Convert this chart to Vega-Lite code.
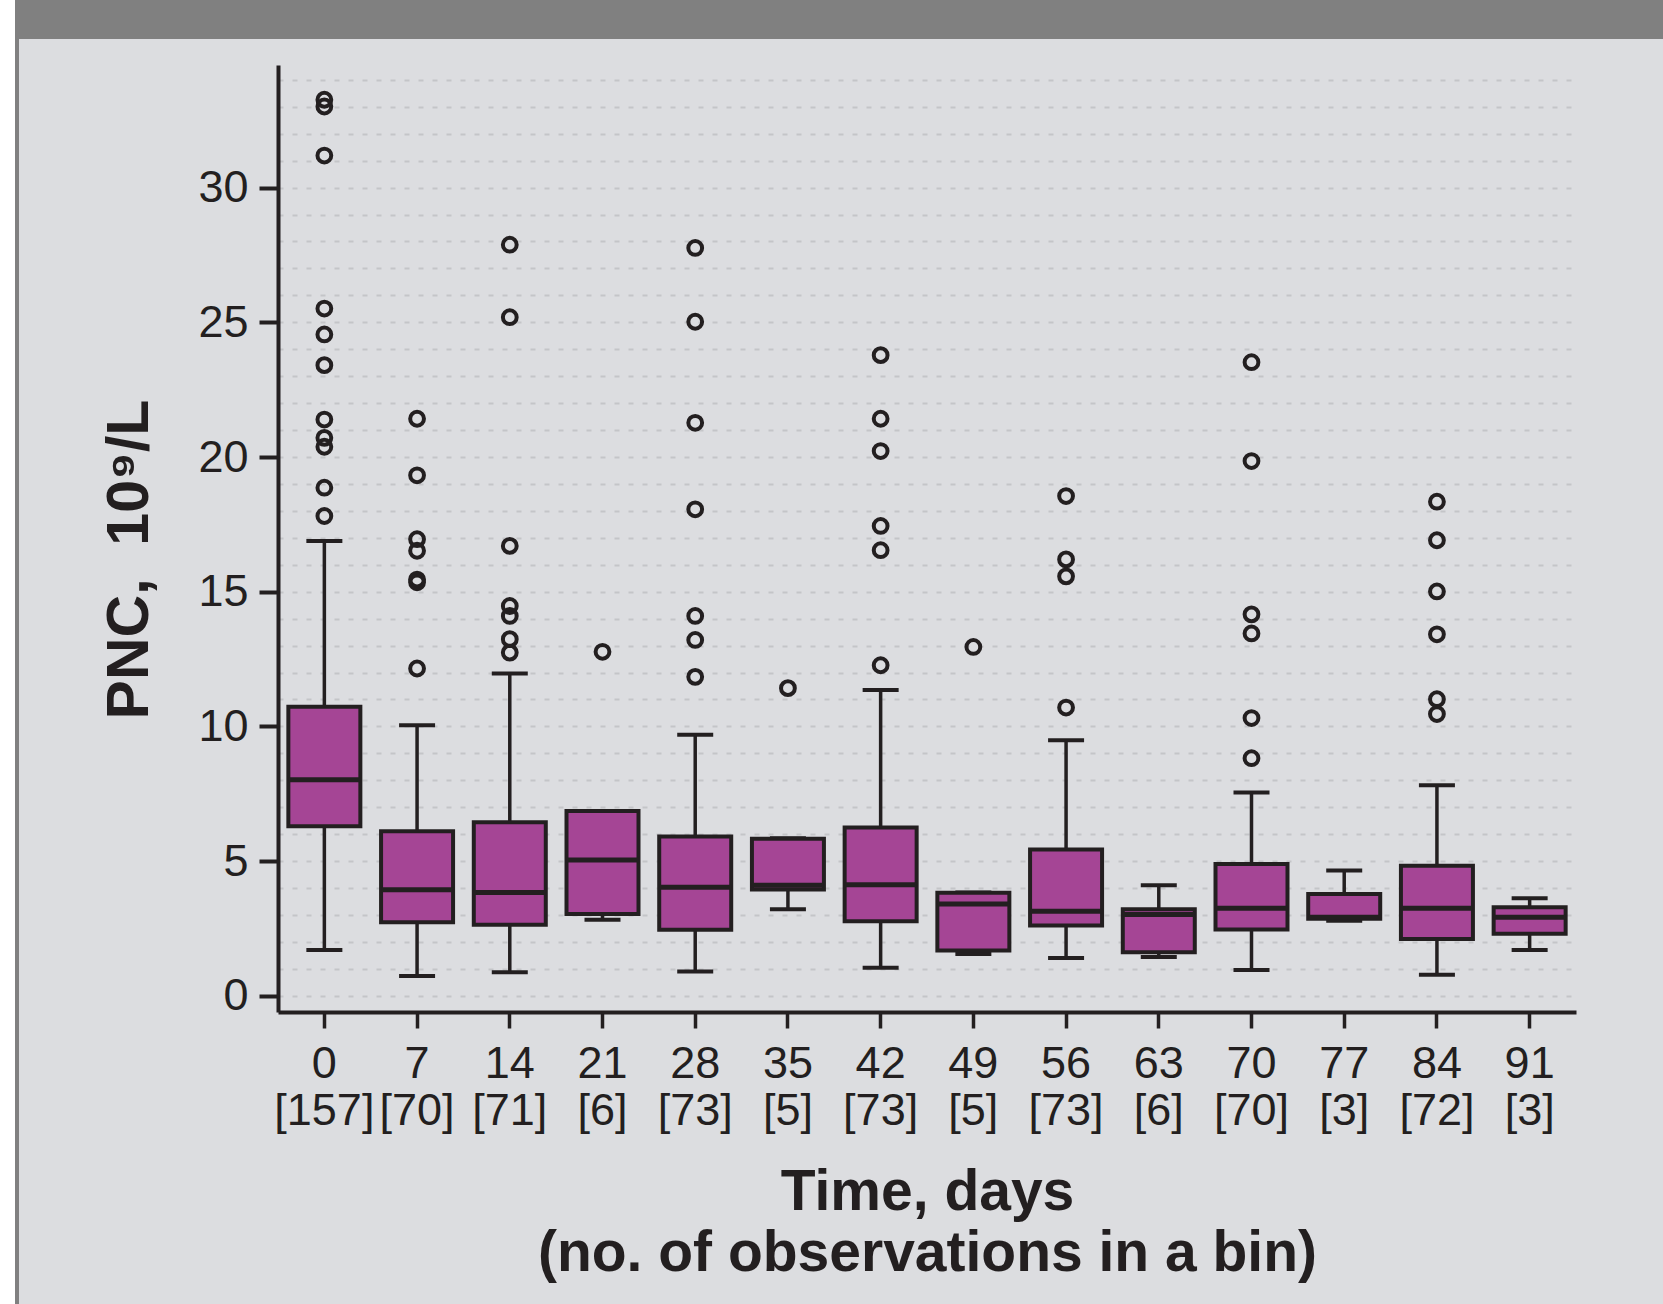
{
  "$schema": "https://vega.github.io/schema/vega-lite/v6.json",
  "background": "#dcdde0",
  "padding": 0,
  "autosize": {"type": "pad"},
  "config": {
    "view": {"stroke": null},
    "axisY": {
      "tickSize": 19, "tickWidth": 4, "tickColor": "#231f20",
      "domainColor": "#231f20", "domainWidth": 4,
      "grid": true, "gridColor": "#c4c5c8", "gridDash": [5, 9], "gridWidth": 2,
      "labelFont": "Liberation Sans", "labelFontSize": 45, "labelColor": "#231f20", "labelPadding": 11,
      "labelOverlap": false, "labelFlush": false,
      "titleFont": "Liberation Sans", "titleFontSize": 59, "titleFontWeight": "bold", "titleColor": "#231f20",
      "titlePadding": 38
    }
  },
  "spacing": 0,
  "bounds": "flush",
  "datasets": {
    "boxes": [
      {"bin": "0 [157]", "lower": 1.70, "q1": 6.29, "median": 8.02, "q3": 10.73, "upper": 16.88},
      {"bin": "7 [70]", "lower": 0.74, "q1": 2.73, "median": 3.94, "q3": 6.11, "upper": 10.04},
      {"bin": "14 [71]", "lower": 0.88, "q1": 2.64, "median": 3.84, "q3": 6.44, "upper": 11.96},
      {"bin": "21 [6]", "lower": 2.82, "q1": 3.04, "median": 5.04, "q3": 6.86, "upper": 6.86},
      {"bin": "28 [73]", "lower": 0.90, "q1": 2.45, "median": 4.03, "q3": 5.91, "upper": 9.69},
      {"bin": "35 [5]", "lower": 3.21, "q1": 3.95, "median": 4.10, "q3": 5.83, "upper": 5.85},
      {"bin": "42 [73]", "lower": 1.04, "q1": 2.77, "median": 4.12, "q3": 6.25, "upper": 11.35},
      {"bin": "49 [5]", "lower": 1.55, "q1": 1.68, "median": 3.41, "q3": 3.83, "upper": 3.84},
      {"bin": "56 [73]", "lower": 1.40, "q1": 2.61, "median": 3.14, "q3": 5.43, "upper": 9.49},
      {"bin": "63 [6]", "lower": 1.44, "q1": 1.62, "median": 3.02, "q3": 3.21, "upper": 4.10},
      {"bin": "70 [70]", "lower": 0.96, "q1": 2.46, "median": 3.25, "q3": 4.89, "upper": 7.55},
      {"bin": "77 [3]", "lower": 2.79, "q1": 2.86, "median": 2.92, "q3": 3.78, "upper": 4.65},
      {"bin": "84 [72]", "lower": 0.78, "q1": 2.11, "median": 3.25, "q3": 4.83, "upper": 7.82},
      {"bin": "91 [3]", "lower": 1.70, "q1": 2.30, "median": 2.92, "q3": 3.29, "upper": 3.62}
    ],
    "outliers": [
      {"bin": "0 [157]", "value": 33.26}, {"bin": "0 [157]", "value": 33.01}, {"bin": "0 [157]", "value": 31.19},
      {"bin": "0 [157]", "value": 25.51}, {"bin": "0 [157]", "value": 24.55}, {"bin": "0 [157]", "value": 23.41},
      {"bin": "0 [157]", "value": 21.39}, {"bin": "0 [157]", "value": 20.71}, {"bin": "0 [157]", "value": 20.38},
      {"bin": "0 [157]", "value": 18.86}, {"bin": "0 [157]", "value": 17.81},
      {"bin": "7 [70]", "value": 21.42}, {"bin": "7 [70]", "value": 19.32}, {"bin": "7 [70]", "value": 16.95},
      {"bin": "7 [70]", "value": 16.52}, {"bin": "7 [70]", "value": 15.45}, {"bin": "7 [70]", "value": 15.35},
      {"bin": "7 [70]", "value": 12.15},
      {"bin": "14 [71]", "value": 27.88}, {"bin": "14 [71]", "value": 25.19}, {"bin": "14 [71]", "value": 16.70},
      {"bin": "14 [71]", "value": 14.47}, {"bin": "14 [71]", "value": 14.10}, {"bin": "14 [71]", "value": 13.24},
      {"bin": "14 [71]", "value": 12.74},
      {"bin": "21 [6]", "value": 12.77},
      {"bin": "28 [73]", "value": 27.76}, {"bin": "28 [73]", "value": 25.02}, {"bin": "28 [73]", "value": 21.27},
      {"bin": "28 [73]", "value": 18.06}, {"bin": "28 [73]", "value": 14.10}, {"bin": "28 [73]", "value": 13.21},
      {"bin": "28 [73]", "value": 11.84},
      {"bin": "35 [5]", "value": 11.42},
      {"bin": "42 [73]", "value": 23.78}, {"bin": "42 [73]", "value": 21.42}, {"bin": "42 [73]", "value": 20.22},
      {"bin": "42 [73]", "value": 17.44}, {"bin": "42 [73]", "value": 16.54}, {"bin": "42 [73]", "value": 12.27},
      {"bin": "49 [5]", "value": 12.95},
      {"bin": "56 [73]", "value": 18.55}, {"bin": "56 [73]", "value": 16.20}, {"bin": "56 [73]", "value": 15.57},
      {"bin": "56 [73]", "value": 10.70},
      {"bin": "70 [70]", "value": 23.52}, {"bin": "70 [70]", "value": 19.85}, {"bin": "70 [70]", "value": 14.16},
      {"bin": "70 [70]", "value": 13.45}, {"bin": "70 [70]", "value": 10.31}, {"bin": "70 [70]", "value": 8.82},
      {"bin": "84 [72]", "value": 18.34}, {"bin": "84 [72]", "value": 16.91}, {"bin": "84 [72]", "value": 15.01},
      {"bin": "84 [72]", "value": 13.42}, {"bin": "84 [72]", "value": 11.01}, {"bin": "84 [72]", "value": 10.46}
    ]
  },
  "hconcat": [
    {"width": 15, "height": 1304, "view": {"fill": "#ffffff", "stroke": null}, "data": {"values": []}, "mark": "point"},
    {"width": 4, "height": 1304, "view": {"fill": "#808080", "stroke": null}, "data": {"values": []}, "mark": "point"},
    {
      "spacing": 26,
      "bounds": "flush",
      "vconcat": [
        {"width": 1644, "height": 39, "view": {"fill": "#808080", "stroke": null}, "data": {"values": []}, "mark": "point"},
        {
          "spacing": 258,
          "bounds": "flush",
          "hconcat": [
            {"width": 1, "height": 1, "data": {"values": []}, "mark": "point"},
            {
              "width": 1298,
              "height": 947,
              "encoding": {
                "x": {
                  "field": "bin", "type": "nominal", "title": ["Time, days", "(no. of observations in a bin)"],
                  "scale": {"domain": ["0 [157]", "7 [70]", "14 [71]", "21 [6]", "28 [73]", "35 [5]", "42 [73]", "49 [5]", "56 [73]", "63 [6]", "70 [70]", "77 [3]", "84 [72]", "91 [3]"], "paddingInner": 0, "paddingOuter": 0},
                  "axis": {
                    "labelExpr": "split(datum.label, ' ')",
                    "labelAngle": 0, "labelLineHeight": 47, "labelBaseline": "top",
                    "tickSize": 16, "tickWidth": 3.5, "tickColor": "#231f20",
                    "domainColor": "#231f20", "domainWidth": 4,
                    "labelFont": "Liberation Sans", "labelFontSize": 45, "labelColor": "#231f20", "labelPadding": 13,
                    "titleFont": "Liberation Sans", "titleFontSize": 57, "titleFontWeight": "bold", "titleColor": "#231f20",
                    "titleLineHeight": 61, "titlePadding": 31,
                    "grid": false
                  }
                }
              },
              "layer": [
                {
                  "data": {"name": "boxes"},
                  "mark": {"type": "rule", "color": "#231f20", "strokeWidth": 3.5},
                  "encoding": {
                    "y": {
                      "field": "lower", "type": "quantitative", "title": "PNC,\u00a0 10⁹/L",
                      "scale": {"domain": [-0.6, 34.55], "nice": false, "zero": false},
                      "axis": {
                        "values": [0, 1, 2, 3, 4, 5, 6, 7, 8, 9, 10, 11, 12, 13, 14, 15, 16, 17, 18, 19, 20, 21, 22, 23, 24, 25, 26, 27, 28, 29, 30, 31, 32, 33, 34],
                        "labelExpr": "datum.value % 5 === 0 ? datum.label : ''",
                        "tickOpacity": {"condition": {"test": "datum.value % 5 === 0", "value": 1}, "value": 0},
                        "titleY": 494
                      }
                    },
                    "y2": {"field": "q1"}
                  }
                },
                {
                  "data": {"name": "boxes"},
                  "mark": {"type": "rule", "color": "#231f20", "strokeWidth": 3.5},
                  "encoding": {
                    "y": {
                      "field": "q3", "type": "quantitative", "title": "PNC,\u00a0 10⁹/L",
                      "axis": {
                        "values": [0, 1, 2, 3, 4, 5, 6, 7, 8, 9, 10, 11, 12, 13, 14, 15, 16, 17, 18, 19, 20, 21, 22, 23, 24, 25, 26, 27, 28, 29, 30, 31, 32, 33, 34],
                        "labelExpr": "datum.value % 5 === 0 ? datum.label : ''",
                        "tickOpacity": {"condition": {"test": "datum.value % 5 === 0", "value": 1}, "value": 0},
                        "titleY": 494
                      }
                    },
                    "y2": {"field": "upper"}
                  }
                },
                {
                  "data": {"name": "boxes"},
                  "mark": {"type": "tick", "size": 36, "thickness": 4, "color": "#231f20", "opacity": 1},
                  "encoding": {
                    "y": {
                      "field": "lower", "type": "quantitative", "title": "PNC,\u00a0 10⁹/L",
                      "axis": {
                        "values": [0, 1, 2, 3, 4, 5, 6, 7, 8, 9, 10, 11, 12, 13, 14, 15, 16, 17, 18, 19, 20, 21, 22, 23, 24, 25, 26, 27, 28, 29, 30, 31, 32, 33, 34],
                        "labelExpr": "datum.value % 5 === 0 ? datum.label : ''",
                        "tickOpacity": {"condition": {"test": "datum.value % 5 === 0", "value": 1}, "value": 0},
                        "titleY": 494
                      }
                    }
                  }
                },
                {
                  "data": {"name": "boxes"},
                  "mark": {"type": "tick", "size": 36, "thickness": 4, "color": "#231f20", "opacity": 1},
                  "encoding": {
                    "y": {
                      "field": "upper", "type": "quantitative", "title": "PNC,\u00a0 10⁹/L",
                      "axis": {
                        "values": [0, 1, 2, 3, 4, 5, 6, 7, 8, 9, 10, 11, 12, 13, 14, 15, 16, 17, 18, 19, 20, 21, 22, 23, 24, 25, 26, 27, 28, 29, 30, 31, 32, 33, 34],
                        "labelExpr": "datum.value % 5 === 0 ? datum.label : ''",
                        "tickOpacity": {"condition": {"test": "datum.value % 5 === 0", "value": 1}, "value": 0},
                        "titleY": 494
                      }
                    }
                  }
                },
                {
                  "data": {"name": "boxes"},
                  "mark": {"type": "bar", "size": 72, "fill": "#a54595", "stroke": "#231f20", "strokeWidth": 4, "opacity": 1},
                  "encoding": {
                    "y": {
                      "field": "q1", "type": "quantitative", "title": "PNC,\u00a0 10⁹/L",
                      "axis": {
                        "values": [0, 1, 2, 3, 4, 5, 6, 7, 8, 9, 10, 11, 12, 13, 14, 15, 16, 17, 18, 19, 20, 21, 22, 23, 24, 25, 26, 27, 28, 29, 30, 31, 32, 33, 34],
                        "labelExpr": "datum.value % 5 === 0 ? datum.label : ''",
                        "tickOpacity": {"condition": {"test": "datum.value % 5 === 0", "value": 1}, "value": 0},
                        "titleY": 494
                      }
                    },
                    "y2": {"field": "q3"}
                  }
                },
                {
                  "data": {"name": "boxes"},
                  "mark": {"type": "tick", "size": 72, "thickness": 5, "color": "#231f20", "opacity": 1},
                  "encoding": {
                    "y": {
                      "field": "median", "type": "quantitative", "title": "PNC,\u00a0 10⁹/L",
                      "axis": {
                        "values": [0, 1, 2, 3, 4, 5, 6, 7, 8, 9, 10, 11, 12, 13, 14, 15, 16, 17, 18, 19, 20, 21, 22, 23, 24, 25, 26, 27, 28, 29, 30, 31, 32, 33, 34],
                        "labelExpr": "datum.value % 5 === 0 ? datum.label : ''",
                        "tickOpacity": {"condition": {"test": "datum.value % 5 === 0", "value": 1}, "value": 0},
                        "titleY": 494
                      }
                    }
                  }
                },
                {
                  "data": {"name": "outliers"},
                  "mark": {"type": "point", "shape": "circle", "size": 190, "filled": false, "strokeWidth": 4, "color": "#231f20", "opacity": 1},
                  "encoding": {
                    "y": {
                      "field": "value", "type": "quantitative", "title": "PNC,\u00a0 10⁹/L",
                      "axis": {
                        "values": [0, 1, 2, 3, 4, 5, 6, 7, 8, 9, 10, 11, 12, 13, 14, 15, 16, 17, 18, 19, 20, 21, 22, 23, 24, 25, 26, 27, 28, 29, 30, 31, 32, 33, 34],
                        "labelExpr": "datum.value % 5 === 0 ? datum.label : ''",
                        "tickOpacity": {"condition": {"test": "datum.value % 5 === 0", "value": 1}, "value": 0},
                        "titleY": 494
                      }
                    }
                  }
                }
              ]
            }
          ]
        }
      ]
    }
  ]
}
